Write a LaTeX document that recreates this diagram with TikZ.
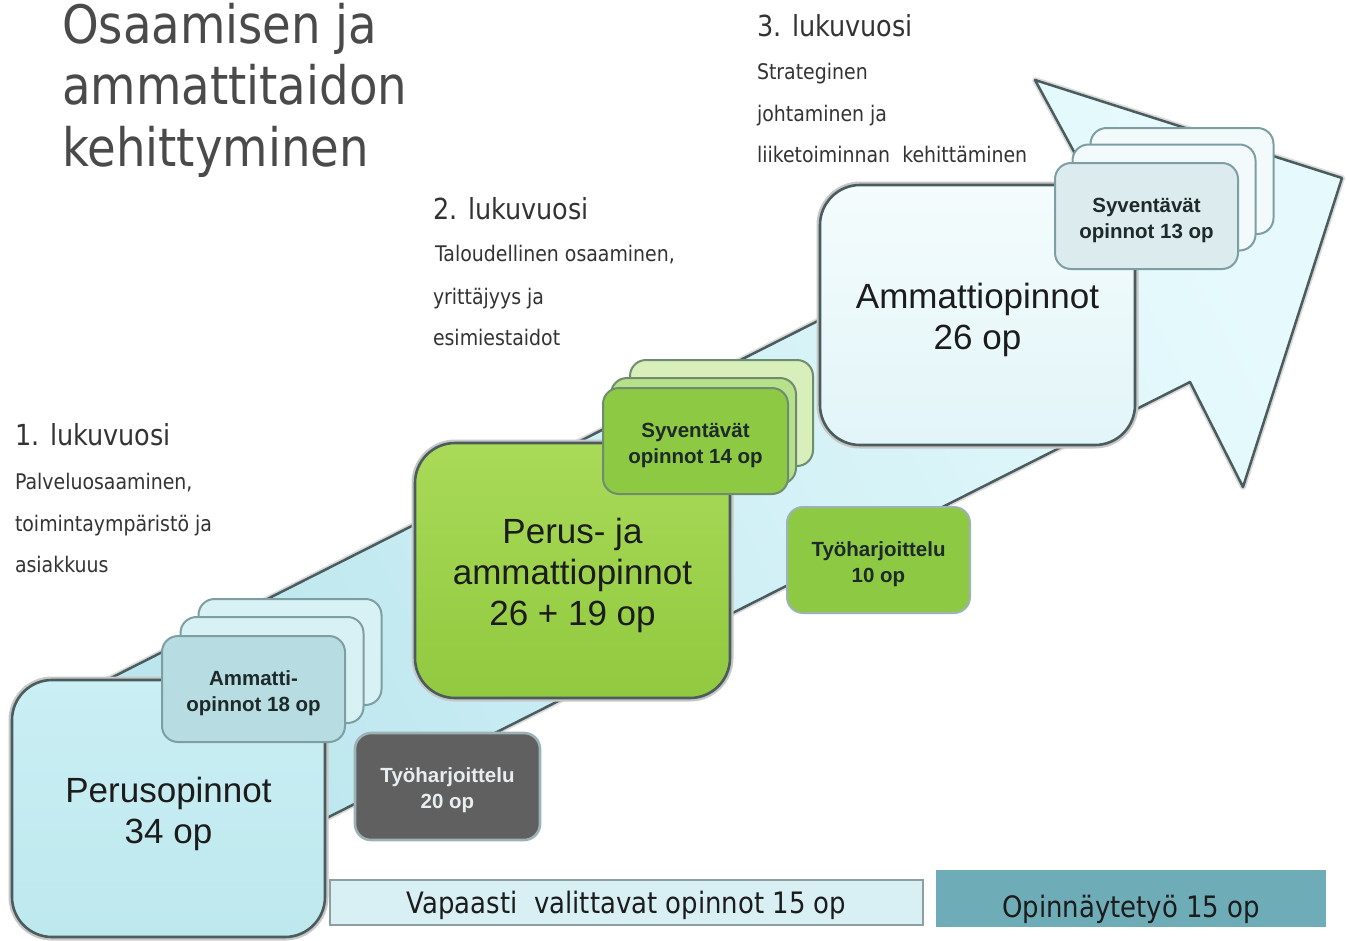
\documentclass[tikz,border=0pt]{standalone}
\usepackage{fontspec}
\setmainfont{Liberation Sans}
\newfontfamily\tah{DejaVu Sans}[FakeStretch=0.88]
\definecolor{arrowA}{HTML}{BCE6EE}
\definecolor{arrowB}{HTML}{E6FAFD}
\definecolor{edgeD}{HTML}{4B5C5E}
\definecolor{peruT}{HTML}{CAEFF4}
\definecolor{peruB}{HTML}{BDE8EE}
\definecolor{greenT}{HTML}{A9DA58}
\definecolor{greenB}{HTML}{91C93F}
\definecolor{ammT}{HTML}{F4FCFD}
\definecolor{ammB}{HTML}{E2F5F8}
\definecolor{stkFront}{HTML}{B7DCE2}
\definecolor{stkBack}{HTML}{D8F1F5}
\definecolor{stkEdge}{HTML}{7D9FA3}
\definecolor{darkF}{HTML}{606060}
\definecolor{darkEdge}{HTML}{9DB2B7}
\definecolor{gFront}{HTML}{8DC943}
\definecolor{gMid}{HTML}{B7E08A}
\definecolor{gBack}{HTML}{D8EFBC}
\definecolor{gEdge}{HTML}{6E8D6E}
\definecolor{sFront}{HTML}{DCECEE}
\definecolor{sBack}{HTML}{F3FAFB}
\definecolor{vapF}{HTML}{D8F0F4}
\definecolor{vapE}{HTML}{8E9FA2}
\definecolor{opF}{HTML}{6EADB7}
\definecolor{txtD}{HTML}{1C1C1C}
\definecolor{txtG}{HTML}{333333}
\definecolor{titleG}{HTML}{4A4A4A}
\definecolor{boldT}{HTML}{1E2A2A}
\definecolor{lightT}{HTML}{E8EEF0}
\newcommand\bigstrut{\rule{0pt}{36pt}}
\newcommand\smstrut{\rule{0pt}{22.5pt}}
\tikzset{
  bigbox/.style={draw=edgeD, line width=2.6pt, rounded corners=40pt, align=center,
    text=txtD, font=\fontsize{35}{41}\selectfont,
    preaction={draw=black!22, line width=7pt}},
  stk/.style={draw=stkEdge, line width=2pt, rounded corners=16pt,
    minimum width=183pt, minimum height=106pt, align=center, text=boldT,
    font=\bfseries\fontsize{20.5}{26}\selectfont},
  titleline/.style={anchor=base west, text=titleG, font=\tah\fontsize{53}{60}\selectfont},
  yrhead/.style={anchor=base west, text=txtG, font=\tah\fontsize{29}{34}\selectfont},
  yrline/.style={anchor=base west, text=txtG, font=\tah\fontsize{21.5}{26}\selectfont},
  barbox/.style={font=\tah\fontsize{29.5}{34}\selectfont, text=txtD},
}
\begin{document}
\begin{tikzpicture}[x=1pt,y=-1pt, every node/.style={inner sep=0pt, outer sep=0pt}]
\useasboundingbox (0,0) rectangle (1347,940);
\fill[white] (0,0) rectangle (1347,940);

% big arrow
\path[draw=edgeD, line width=2.5pt, line join=round, top color=arrowB, bottom color=arrowA,
  shading angle=-63, preaction={draw=black!14, line width=6pt, line join=round}]
  (80,693.6) -- (1091,183) -- (1035,80) -- (1342,178) -- (1243,487) -- (1190,382) -- (179,892.6) -- cycle;

% title
\node[titleline] (t1) at (62,43) {Osaamisen ja};
\node[titleline] (t2) at (62,104) {ammattitaidon};
\node[titleline] (t3) at (62,166) {kehittyminen};

% year 3
\node[yrhead] (y3h) at (757,36) {3. lukuvuosi};
\node[yrline] (y3a) at (757,79) {Strateginen};
\node[yrline] (y3b) at (757,121) {johtaminen ja};
\node[yrline] (y3c) at (757,162) {liiketoiminnan\ \ kehittäminen};

% year 2
\node[yrhead] (y2h) at (433,219) {2. lukuvuosi};
\node[yrline] (y2a) at (435,261) {Taloudellinen osaaminen,};
\node[yrline] (y2b) at (433,304) {yrittäjyys ja};
\node[yrline] (y2c) at (433,345) {esimiestaidot};

% year 1
\node[yrhead] (y1h) at (15,445) {1. lukuvuosi};
\node[yrline] (y1a) at (15,489) {Palveluosaaminen,};
\node[yrline] (y1b) at (15,531) {toimintaympäristö ja};
\node[yrline] (y1c) at (15,572) {asiakkuus};

% year 3 boxes
\node[bigbox, top color=ammT, bottom color=ammB, minimum width=315pt, minimum height=260pt]
  (amm) at (977.5,315) {\bigstrut Ammattiopinnot\\26 op};
\node[stk, fill=sBack] (s13c) at (1182,181) {};
\node[stk, fill=sBack] (s13b) at (1164,197.5) {};
\node[stk, fill=sFront] (s13a) at (1146.5,216) {\smstrut Syventävät\\opinnot 13 op};

% year 2 boxes
\node[bigbox, top color=greenT, bottom color=greenB, minimum width=315pt, minimum height=255pt]
  (green) at (572.5,570.5) {\bigstrut Perus- ja\\ammattiopinnot\\26 + 19 op};
\node[stk, draw=gEdge, fill=gBack, minimum width=183pt] (s14c) at (721.5,413) {};
\node[stk, draw=gEdge, fill=gMid, minimum width=185pt] (s14b) at (703.5,431) {};
\node[stk, draw=gEdge, fill=gFront, minimum width=185pt] (s14a) at (695.5,441) {\smstrut Syventävät\\opinnot 14 op};
\node[stk, draw=darkEdge, fill=gFront] (ty10) at (878.5,560) {\smstrut Työharjoittelu\\10 op};

% year 1 boxes
\node[bigbox, top color=peruT, bottom color=peruB, minimum width=313pt, minimum height=257pt]
  (peru) at (168.5,808.5) {\bigstrut Perusopinnot\\34 op};
\node[stk, fill=stkBack] (a18c) at (290,652) {};
\node[stk, fill=stkBack] (a18b) at (272,670) {};
\node[stk, fill=stkFront] (a18a) at (253.5,689) {\smstrut Ammatti-\\opinnot 18 op};
\node[stk, draw=darkEdge, line width=2.6pt, fill=darkF, text=lightT, minimum width=185pt, minimum height=107pt]
  (ty20) at (447.5,786.5) {\smstrut Työharjoittelu\\20 op};

% bottom bars
\node[barbox, draw=vapE, line width=2pt, fill=vapF, minimum width=593pt, minimum height=45pt]
  (vap) at (626.5,902.5) {\raisebox{-11pt}[0pt][0pt]{Vapaasti\ \ valittavat opinnot 15 op}};
\node[barbox, fill=opF, minimum width=390pt, minimum height=57pt]
  (opn) at (1131,898.5) {\raisebox{-19pt}[0pt][0pt]{Opinnäytetyö 15 op}};
\end{tikzpicture}
\end{document}
